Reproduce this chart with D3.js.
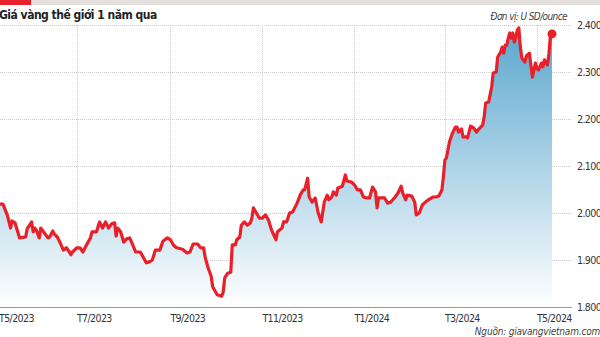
<!DOCTYPE html>
<html>
<head>
<meta charset="utf-8">
<script src="https://cdn.jsdelivr.net/npm/d3@7"></script>
<style>
  html, body { margin: 0; padding: 0; background: #fff; overflow: hidden; }
  svg { display: block; }
  .lbl { font-family: "Liberation Sans Narrow", "DejaVu Sans Condensed", Roboto, sans-serif; }
</style>
</head>
<body>
<div id="chart"></div>
<script>
const dates = [
  "2023-05-11","2023-05-13","2023-05-16","2023-05-18","2023-05-19","2023-05-21","2023-05-22","2023-05-24","2023-05-28","2023-05-29",
  "2023-06-01","2023-06-02","2023-06-03","2023-06-04","2023-06-06","2023-06-07","2023-06-08","2023-06-10","2023-06-12","2023-06-13",
  "2023-06-15","2023-06-16","2023-06-18","2023-06-20","2023-06-22","2023-06-24","2023-06-26","2023-06-27","2023-06-28",
  "2023-07-01","2023-07-03","2023-07-05","2023-07-07","2023-07-10","2023-07-11","2023-07-14","2023-07-16","2023-07-18","2023-07-20",
  "2023-07-22","2023-07-24","2023-07-26","2023-07-27","2023-07-28","2023-07-30",
  "2023-08-01","2023-08-03","2023-08-05","2023-08-07","2023-08-09","2023-08-12","2023-08-14","2023-08-16","2023-08-18","2023-08-20",
  "2023-08-22","2023-08-25","2023-08-27","2023-08-30",
  "2023-09-01","2023-09-03","2023-09-05","2023-09-09","2023-09-12","2023-09-14","2023-09-16","2023-09-19","2023-09-21","2023-09-23",
  "2023-09-24","2023-09-26","2023-09-28","2023-09-29",
  "2023-10-02","2023-10-05","2023-10-06","2023-10-07","2023-10-09","2023-10-11","2023-10-12","2023-10-14","2023-10-15","2023-10-17",
  "2023-10-18","2023-10-20","2023-10-22","2023-10-24","2023-10-25","2023-10-26","2023-10-28","2023-10-30",
  "2023-11-01","2023-11-03","2023-11-05","2023-11-07","2023-11-08","2023-11-10","2023-11-11","2023-11-14","2023-11-15","2023-11-17",
  "2023-11-19","2023-11-21","2023-11-24","2023-11-26","2023-11-28","2023-11-29",
  "2023-12-01","2023-12-02","2023-12-04","2023-12-06","2023-12-08","2023-12-10","2023-12-12","2023-12-14","2023-12-15","2023-12-17",
  "2023-12-18","2023-12-20","2023-12-21","2023-12-24","2023-12-26","2023-12-27","2023-12-30",
  "2024-01-01","2024-01-03","2024-01-05","2024-01-07","2024-01-09","2024-01-11","2024-01-13","2024-01-15","2024-01-16","2024-01-17",
  "2024-01-20","2024-01-21","2024-01-23","2024-01-25","2024-01-28","2024-01-30",
  "2024-02-01","2024-02-02","2024-02-04","2024-02-05","2024-02-08","2024-02-10","2024-02-11","2024-02-13","2024-02-15","2024-02-17",
  "2024-02-19","2024-02-22","2024-02-24","2024-02-26","2024-02-28","2024-02-29",
  "2024-03-01","2024-03-02","2024-03-03","2024-03-04","2024-03-06","2024-03-08","2024-03-09","2024-03-10","2024-03-12","2024-03-13",
  "2024-03-15","2024-03-16","2024-03-18","2024-03-20","2024-03-22","2024-03-23","2024-03-26","2024-03-27","2024-03-28","2024-03-30",
  "2024-04-01","2024-04-02","2024-04-04","2024-04-05","2024-04-07","2024-04-08","2024-04-09","2024-04-10","2024-04-11","2024-04-12",
  "2024-04-13","2024-04-14","2024-04-15","2024-04-16","2024-04-17","2024-04-18","2024-04-19","2024-04-20","2024-04-21","2024-04-23",
  "2024-04-24","2024-04-26","2024-04-27","2024-04-28","2024-04-30",
  "2024-05-01","2024-05-02","2024-05-04","2024-05-05","2024-05-06","2024-05-08","2024-05-09","2024-05-10","2024-05-11"
];

const prices = [
  2019,2019,1994,1968,1983,1979,1968,1947,1949,1966,
  1981,1960,1968,1964,1947,1968,1964,1955,1947,1949,
  1962,1955,1949,1936,1921,1926,1917,1911,1917,
  1926,1926,1917,1930,1947,1960,1960,1981,1968,1981,
  1968,1977,1979,1951,1968,1960,
  1938,1945,1947,1932,1917,1917,1906,1894,1896,1900,
  1921,1921,1940,1947,
  1943,1932,1926,1923,1915,1917,1934,1934,1926,1926,
  1906,1883,1866,1843,
  1826,1823,1832,1862,1872,1874,1932,1932,1943,1949,
  1974,1981,1974,1979,1989,2011,2000,1989,
  1989,1996,1985,1964,1957,1943,1960,1968,1981,1981,
  2000,2002,2021,2038,2049,2049,
  2074,2034,2023,2032,2000,1981,2023,2038,2028,2034,
  2045,2038,2053,2057,2081,2068,2066,
  2060,2049,2049,2034,2032,2032,2055,2045,2011,2032,
  2032,2032,2021,2023,2034,2043,
  2057,2043,2028,2038,2036,2023,1996,2000,2017,2023,
  2028,2034,2034,2036,2049,2077,
  2113,2117,2134,2151,2170,2183,2183,2172,2179,2162,
  2162,2160,2185,2181,2172,2177,2187,2204,2234,2236,
  2268,2298,2300,2332,2343,2353,2340,2357,2357,2372,
  2383,2372,2383,2364,2374,2389,2394,2353,2330,2321,
  2334,2340,2315,2289,2319,
  2308,2304,2319,2311,2326,2315,2340,2379,2381
];

const yTicks = [1800, 1900, 2000, 2100, 2200, 2300, 2400];
const xTickDates = ["2023-05-01","2023-07-01","2023-09-01","2023-11-01","2024-01-01","2024-03-01","2024-05-01"];
const xTickLabels = ["T5/2023","T7/2023","T9/2023","T11/2023","T1/2024","T3/2024","T5/2024"];

const W = 600, H = 337;
const parse = d3.timeParse("%Y-%m-%d");
const data = dates.map((d, i) => ({ date: parse(d), value: prices[i] }));

const svg = d3.select("#chart").append("svg")
  .attr("width", W)
  .attr("height", H);

const x = d3.scaleTime()
  .domain(d3.extent(data, d => d.date))
  .range([0, 552]);

const y = d3.scaleLinear()
  .domain([1800, 2400])
  .range([307, 25]);

const fmt = d3.formatLocale({ decimal: ",", thousands: ".", grouping: [3], currency: ["", ""] }).format(",");

// top bar
svg.append("rect").attr("x", 0).attr("y", 0).attr("width", W).attr("height", 5).attr("fill", "#e3e0dd");
svg.append("rect").attr("x", 0).attr("y", 0).attr("width", 31).attr("height", 5).attr("fill", "#e8202a");

// gradient
const grad = svg.append("defs").append("linearGradient")
  .attr("id", "fill")
  .attr("gradientUnits", "userSpaceOnUse")
  .attr("x1", 0).attr("x2", 0)
  .attr("y1", y(2400)).attr("y2", y(1800));
grad.append("stop").attr("offset", "0%").attr("stop-color", "#5aa6ce");
grad.append("stop").attr("offset", "100%").attr("stop-color", "#ffffff");

// horizontal grid
svg.append("g").selectAll("line")
  .data(yTicks.filter(d => d > 1800))
  .enter().append("line")
  .attr("x1", 0).attr("x2", 572)
  .attr("y1", d => y(d) + 0.5).attr("y2", d => y(d) + 0.5)
  .attr("stroke", "#cccccc")
  .attr("stroke-dasharray", "1,1");

// vertical grid
const xt = xTickDates.map(parse);
svg.append("g").selectAll("line")
  .data(xt)
  .enter().append("line")
  .attr("x1", d => Math.round(x(d)) + 0.5).attr("x2", d => Math.round(x(d)) + 0.5)
  .attr("y1", y(2400)).attr("y2", y(1800))
  .attr("stroke", "#cccccc")
  .attr("stroke-dasharray", "1,1");

// area
const area = d3.area()
  .x(d => x(d.date))
  .y0(y(1800))
  .y1(d => y(d.value));

svg.append("path")
  .datum(data)
  .attr("d", area)
  .attr("fill", "url(#fill)");

// baseline
svg.append("line")
  .attr("x1", 0).attr("x2", 572)
  .attr("y1", y(1800) + 0.5).attr("y2", y(1800) + 0.5)
  .attr("stroke", "#9a9a9a");

// line
const line = d3.line()
  .x(d => x(d.date))
  .y(d => y(d.value));

svg.append("path")
  .datum(data)
  .attr("d", line)
  .attr("fill", "none")
  .attr("stroke", "#e8202a")
  .attr("stroke-width", 3.2)
  .attr("stroke-linejoin", "round");

const last = data[data.length - 1];
svg.append("circle")
  .attr("cx", x(last.date))
  .attr("cy", y(last.value))
  .attr("r", 4.5)
  .attr("fill", "#e8202a");

// y labels
svg.append("g").selectAll("text")
  .data(yTicks)
  .enter().append("text")
  .attr("class", "lbl")
  .attr("x", 577)
  .attr("y", d => y(d))
  .attr("dy", "0.35em")
  .attr("font-size", 10.5)
  .attr("letter-spacing", -0.6)
  .attr("fill", "#333")
  .text(d => fmt(d));

// x labels
svg.append("g").selectAll("text")
  .data(xt)
  .enter().append("text")
  .attr("class", "lbl")
  .attr("x", d => Math.max(x(d), -1))
  .attr("y", 322)
  .attr("font-size", 10.5)
  .attr("letter-spacing", -0.6)
  .attr("fill", "#333")
  .text((d, i) => xTickLabels[i]);

// title, unit, source
svg.append("text")
  .attr("class", "lbl")
  .attr("x", -1).attr("y", 18.5)
  .attr("font-size", 12)
  .attr("font-weight", "bold")
  .attr("letter-spacing", -0.5)
  .attr("fill", "#222")
  .text("Giá vàng thế giới 1 năm qua");

svg.append("text")
  .attr("class", "lbl")
  .attr("x", 567).attr("y", 19.5)
  .attr("text-anchor", "end")
  .attr("font-size", 10)
  .attr("font-style", "italic")
  .attr("letter-spacing", -0.6)
  .attr("fill", "#444")
  .text("Đơn vị: U SD/ounce");

svg.append("text")
  .attr("class", "lbl")
  .attr("x", 600).attr("y", 334.5)
  .attr("text-anchor", "end")
  .attr("font-size", 10)
  .attr("font-style", "italic")
  .attr("letter-spacing", -0.2)
  .attr("fill", "#444")
  .text("Nguồn: giavangvietnam.com");
</script>
</body>
</html>
